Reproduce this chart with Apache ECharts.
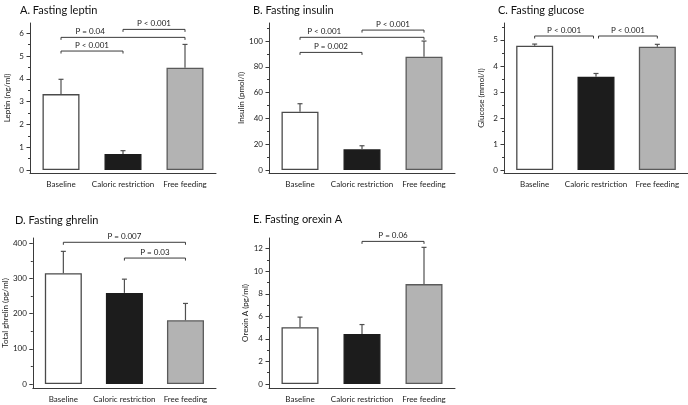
<!DOCTYPE html>
<html>
<head>
<meta charset="utf-8">
<script src="https://cdn.jsdelivr.net/npm/echarts@6/dist/echarts.min.js"></script>
<style>
html,body{margin:0;padding:0;background:#fff;}
#chart{width:688px;height:405px;}
</style>
</head>
<body>
<div id="chart"></div>
<script>
// ---------- data ----------
const categories = ['Baseline', 'Caloric restriction', 'Free feeding'];

const leptin = [3.33, 0.70, 4.49];
const leptinErr = [3.98, 0.85, 5.51];
const leptinTicks = [0, 1, 2, 3, 4, 5, 6];
const leptinMinor = [0.5, 1.5, 2.5, 3.5, 4.5, 5.5];
const leptinBrackets = [[0, 1, 5.22, 'P < 0.001'], [0, 2, 5.82, 'P = 0.04'], [1, 2, 6.17, 'P < 0.001']];

const insulin = [45.2, 16.0, 87.9];
const insulinErr = [51.4, 18.8, 100];
const insulinTicks = [0, 20, 40, 60, 80, 100];
const insulinMinor = [10, 30, 50, 70, 90, 110];
const insulinBrackets = [[0, 1, 91.2, 'P = 0.002'], [0, 2, 102.9, 'P < 0.001'], [1, 2, 108.5, 'P < 0.001']];

const glucose = [4.78, 3.58, 4.74];
const glucoseErr = [4.84, 3.71, 4.83];
const glucoseTicks = [0, 1, 2, 3, 4, 5];
const glucoseMinor = [0.5, 1.5, 2.5, 3.5, 4.5, 5.5];
const glucoseBrackets = [[0, 1, 5.15, 'P < 0.001'], [1, 2, 5.15, 'P < 0.001']];

const ghrelin = [315, 259, 181];
const ghrelinErr = [377, 298, 229];
const ghrelinTicks = [0, 100, 200, 300, 400];
const ghrelinMinor = [50, 150, 250, 350];
const ghrelinBrackets = [[0, 2, 402.8, 'P = 0.007'], [1, 2, 358, 'P = 0.03']];

const orexin = [5.04, 4.44, 8.86];
const orexinErr = [5.93, 5.27, 12.12];
const orexinTicks = [0, 2, 4, 6, 8, 10, 12];
const orexinMinor = [1, 3, 5, 7, 9, 11];
const orexinBrackets = [[1, 2, 12.65, 'P = 0.06']];

const panels = [
  { title: 'A. Fasting leptin', yName: 'Leptin (ng/ml)', values: leptin, errors: leptinErr, ticks: leptinTicks, minor: leptinMinor, brackets: leptinBrackets },
  { title: 'B. Fasting insulin', yName: 'Insulin (pmol/l)', values: insulin, errors: insulinErr, ticks: insulinTicks, minor: insulinMinor, brackets: insulinBrackets },
  { title: 'C. Fasting glucose', yName: 'Glucose (mmol/l)', values: glucose, errors: glucoseErr, ticks: glucoseTicks, minor: glucoseMinor, brackets: glucoseBrackets },
  { title: 'D. Fasting ghrelin', yName: 'Total ghrelin (pg/ml)', values: ghrelin, errors: ghrelinErr, ticks: ghrelinTicks, minor: ghrelinMinor, brackets: ghrelinBrackets },
  { title: 'E. Fasting orexin A', yName: 'Orexin A (pg/ml)', values: orexin, errors: orexinErr, ticks: orexinTicks, minor: orexinMinor, brackets: orexinBrackets }
];

// ---------- layout / style ----------
// labelAt: horizontal anchor (fraction between first and second category) of each bracket's text; null = bracket centre
const layout = [
  { left: 30,  top: 23,  width: 186, height: 150, min: -0.13, max: 6.45, titleX: 15,  titleY: 0,   inset: 0,   labelAt: [null, 0.47, null] },
  { left: 269, top: 23,  width: 186, height: 150, min: -2.33, max: 114,  titleX: 248, titleY: 0,   inset: 0,   labelAt: [null, 0.39, null] },
  { left: 504, top: 23,  width: 184, height: 150, min: -0.115, max: 5.65, titleX: 493, titleY: 0,  inset: 2.5, labelAt: [null, null] },
  { left: 30,  top: 238, width: 186, height: 150, min: -11.4, max: 415,  titleX: 10,  titleY: 210, inset: 0,   labelAt: [null, null] },
  { left: 269, top: 238, width: 186, height: 150, min: -0.36, max: 12.95, titleX: 248, titleY: 209, inset: 0,  labelAt: [null] }
];

const FONT = 'Lato';
const AX = '#3a3a3a';
const barFills = ['#ffffff', '#1c1c1c', '#b3b3b3'];
const barBorders = ['#4a4a4a', '#1c1c1c', '#5a5a5a'];

const option = {
  animation: false,
  backgroundColor: '#fff',
  textStyle: { fontFamily: FONT },
  title: [], grid: [], xAxis: [], yAxis: [], series: []
};

panels.forEach((p, i) => {
  const L = layout[i];
  option.title.push({
    text: p.title, left: L.titleX, top: L.titleY,
    textStyle: { fontFamily: FONT, fontSize: 11, fontWeight: 'normal', color: '#111' }
  });
  option.grid.push({ left: L.left, top: L.top, width: L.width, height: L.height, containLabel: false });
  option.xAxis.push({
    type: 'category', gridIndex: i, data: categories, boundaryGap: true,
    axisLine: { onZero: false, lineStyle: { color: AX, width: 1 } },
    axisTick: { show: false },
    axisLabel: { fontFamily: FONT, fontSize: 8, color: '#222', margin: 7, interval: 0 }
  });
  // main y axis (major ticks + labels)
  option.yAxis.push({
    type: 'value', gridIndex: i, position: 'left', min: L.min, max: L.max,
    name: p.yName, nameLocation: 'middle', nameGap: 19, nameRotate: 90,
    nameTextStyle: { fontFamily: FONT, fontSize: 8, color: '#222' },
    axisLine: { show: true, onZero: false, lineStyle: { color: AX, width: 1 } },
    axisTick: { show: true, length: 3.5, lineStyle: { color: AX }, customValues: p.ticks },
    axisLabel: { fontFamily: FONT, fontSize: 8, color: '#222', margin: 6, customValues: p.ticks },
    splitLine: { show: false }
  });
  // companion y axis (minor ticks)
  option.yAxis.push({
    type: 'value', gridIndex: i, position: 'left', offset: 0, min: L.min, max: L.max,
    axisLine: { show: false, onZero: false },
    axisTick: { show: true, length: 2, lineStyle: { color: AX }, customValues: p.minor },
    axisLabel: { show: false },
    splitLine: { show: false }
  });
  const yIdx = i * 2;

  option.series.push({
    type: 'bar', xAxisIndex: i, yAxisIndex: yIdx, barWidth: 37,
    data: p.values.map((v, k) => ({
      value: v,
      itemStyle: { color: barFills[k], borderColor: barBorders[k], borderWidth: 1.3 }
    })),
    z: 2
  });

  // error bars (upper whisker only)
  option.series.push({
    type: 'custom', xAxisIndex: i, yAxisIndex: yIdx,
    data: p.values.map((v, k) => [k, v, p.errors[k]]),
    encode: { x: 0, y: [1, 2] },
    z: 3,
    renderItem: function (params, api) {
      const a = api.coord([api.value(0), api.value(1)]);
      const b = api.coord([api.value(0), api.value(2)]);
      const st = { stroke: '#505050', lineWidth: 1.2 };
      return {
        type: 'group',
        children: [
          { type: 'line', shape: { x1: a[0], y1: a[1], x2: b[0], y2: b[1] }, style: st },
          { type: 'line', shape: { x1: b[0] - 2.5, y1: b[1], x2: b[0] + 2.5, y2: b[1] }, style: st }
        ]
      };
    }
  });

  // significance brackets
  const br = p.brackets;
  option.series.push({
    type: 'custom', xAxisIndex: i, yAxisIndex: yIdx,
    data: br.map(d => [d[0], d[1], d[2]]),
    encode: { x: [0, 1], y: 2 },
    z: 4,
    renderItem: function (params, api) {
      const inset = L.inset;
      const a = api.coord([api.value(0), api.value(2)]);
      const b = api.coord([api.value(1), api.value(2)]);
      const x1 = a[0] + (api.value(0) > 0 ? inset : 0);
      const x2 = b[0] - (api.value(1) < 2 ? inset : 0);
      const y = a[1];
      const at = L.labelAt[params.dataIndex];
      let tx = (x1 + x2) / 2;
      if (at != null) {
        const c0 = api.coord([0, api.value(2)])[0];
        const c1 = api.coord([1, api.value(2)])[0];
        tx = c0 + at * (c1 - c0);
      }
      return {
        type: 'group',
        children: [
          { type: 'polyline', shape: { points: [[x1, y + 2.5], [x1, y], [x2, y], [x2, y + 2.5]] },
            style: { stroke: '#3a3a3a', lineWidth: 1, fill: null } },
          { type: 'text', x: tx, y: y - 2,
            style: { text: br[params.dataIndex][3], fontFamily: FONT, fontSize: 8, fill: '#222',
                     textAlign: 'center', textVerticalAlign: 'bottom' } }
        ]
      };
    }
  });
});

const chart = echarts.init(document.getElementById('chart'), null, { renderer: 'canvas' });
chart.setOption(option);
</script>
</body>
</html>
